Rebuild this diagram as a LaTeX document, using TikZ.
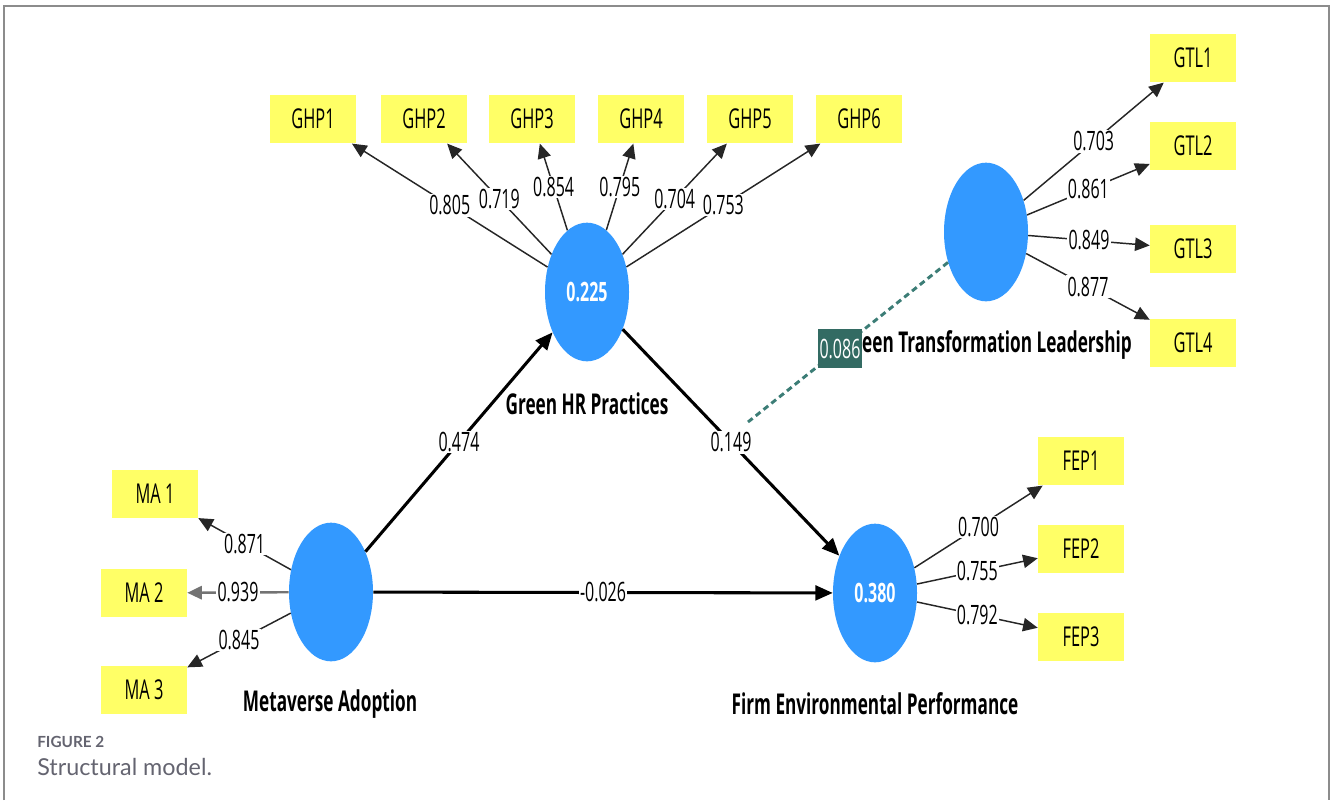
\documentclass[tikz,border=0pt]{standalone}
\usepackage{fontspec}
\usetikzlibrary{arrows.meta,shapes.geometric}
\newfontfamily\condfont[FakeStretch=0.6]{Open Sans}
\newfontfamily\capfont{Lato}
\definecolor{lvblue}{RGB}{51,153,255}
\definecolor{indyellow}{RGB}{255,255,102}
\definecolor{modteal}{RGB}{51,107,99}
\definecolor{dashteal}{RGB}{60,125,118}
\definecolor{framegray}{RGB}{140,140,140}
\definecolor{capgray}{RGB}{100,100,112}
\tikzset{
  latent/.style={ellipse, fill=lvblue, minimum width=63pt, minimum height=104pt,
    inner sep=0pt, text=white, font=\condfont\bfseries\fontsize{20}{22}\selectfont},
  indicator/.style={rectangle, fill=indyellow, minimum width=64.5pt, minimum height=36.5pt,
    inner sep=0pt, font=\condfont\fontsize{20.5}{22}\selectfont},
  loading/.style={draw=black!85, line width=1.1pt, -{Triangle[length=11pt,width=10pt]}},
  coef/.style={fill=white, inner sep=1pt, font=\condfont\fontsize{20}{22}\selectfont},
  structpath/.style={draw=black, line width=2.3pt, -{Triangle[length=13pt,width=11pt]}},
  constructlabel/.style={inner sep=0pt, font=\condfont\bfseries\fontsize{21.5}{24}\selectfont},
  modbox/.style={fill=modteal, text=white, inner sep=1.5pt, minimum height=29pt,
    font=\condfont\fontsize{20}{22}\selectfont},
}
\begin{document}
\begin{tikzpicture}[x=0.75pt,y=-0.75pt]
\useasboundingbox (0,0) rectangle (1330,800);
% page frame
\draw[framegray, line width=1.2pt] (4,800) -- (4,6) -- (1329,6) -- (1329,800);

% latent variables
\node[latent] (ghp) at (587,292) {0.225};
\node[latent] (gtl) at (986,232) {};
\node[latent] (ma)  at (331,592) {};
\node[latent] (fep) at (875,593) {0.380};

% indicators
\node[indicator] (ghp1) at (313,119) {GHP1};
\node[indicator] (ghp2) at (424,119) {GHP2};
\node[indicator] (ghp3) at (532,119) {GHP3};
\node[indicator] (ghp4) at (641,119) {GHP4};
\node[indicator] (ghp5) at (750,119) {GHP5};
\node[indicator] (ghp6) at (859,119) {GHP6};
\node[indicator] (gtl1) at (1193,58) {GTL1};
\node[indicator] (gtl2) at (1193,146) {GTL2};
\node[indicator] (gtl3) at (1193,249) {GTL3};
\node[indicator] (gtl4) at (1193,343) {GTL4};
\node[indicator] (fep1) at (1081,461) {FEP1};
\node[indicator] (fep2) at (1081,549) {FEP2};
\node[indicator] (fep3) at (1081,637) {FEP3};
\node[indicator] (ma1) at (155,494) {MA 1};
\node[indicator] (ma2) at (144,593) {MA 2};
\node[indicator] (ma3) at (144,690) {MA 3};

% construct names
\node[constructlabel] (ghplab) at (587,404) {Green HR Practices};
\node[constructlabel] (malab) at (330,704) {Metaverse Adoption};
\node[constructlabel] (feplab) at (875,704) {Firm Environmental Performance};
\node[constructlabel, anchor=east] (gtllab) at (1132,345) {Green Transformation Leadership};

% outer loadings
\draw[loading] (ghp) -- node[coef]{0.805} (ghp1);
\draw[loading] (ghp) -- node[coef]{0.719} (ghp2);
\draw[loading] (ghp) -- node[coef]{0.854} (ghp3);
\draw[loading] (ghp) -- node[coef]{0.795} (ghp4);
\draw[loading] (ghp) -- node[coef]{0.704} (ghp5);
\draw[loading] (ghp) -- node[coef]{0.753} (ghp6);
\draw[loading] (gtl) -- node[coef]{0.703} (gtl1);
\draw[loading] (gtl) -- node[coef]{0.861} (gtl2);
\draw[loading] (gtl) -- node[coef]{0.849} (gtl3);
\draw[loading] (gtl) -- node[coef]{0.877} (gtl4);
\draw[loading] (fep) -- node[coef]{0.700} (fep1);
\draw[loading] (fep) -- node[coef]{0.755} (fep2);
\draw[loading] (fep) -- node[coef]{0.792} (fep3);
\draw[loading] (ma) -- node[coef]{0.871} (ma1);
\draw[loading, draw=black!55, line width=1.8pt] (ma) -- node[coef]{0.939} (ma2);
\draw[loading] (ma) -- node[coef]{0.845} (ma3);

% structural paths
\draw[structpath] (ma) -- node[coef]{0.474} (ghp);
\draw[structpath] (ghp) -- node[coef]{0.149} (fep);
\draw[structpath] (ma) -- node[coef]{-0.026} (fep);

% moderating effect
\coordinate (modend) at (748,422);
\draw[dashteal, line width=2.2pt, dash pattern=on 4.5pt off 3pt] (gtl) -- node[pos=0.54, modbox]{0.086} (modend);

% caption
\node[anchor=west, inner sep=0pt, text=capgray, font=\capfont\bfseries\fontsize{11.5}{13}\selectfont] (figno) at (37,742) {FIGURE 2};
\node[anchor=west, inner sep=0pt, text=capgray, font=\capfont\fontsize{17.5}{20}\selectfont] (figcap) at (37,767) {Structural model.};
\end{tikzpicture}
\end{document}
